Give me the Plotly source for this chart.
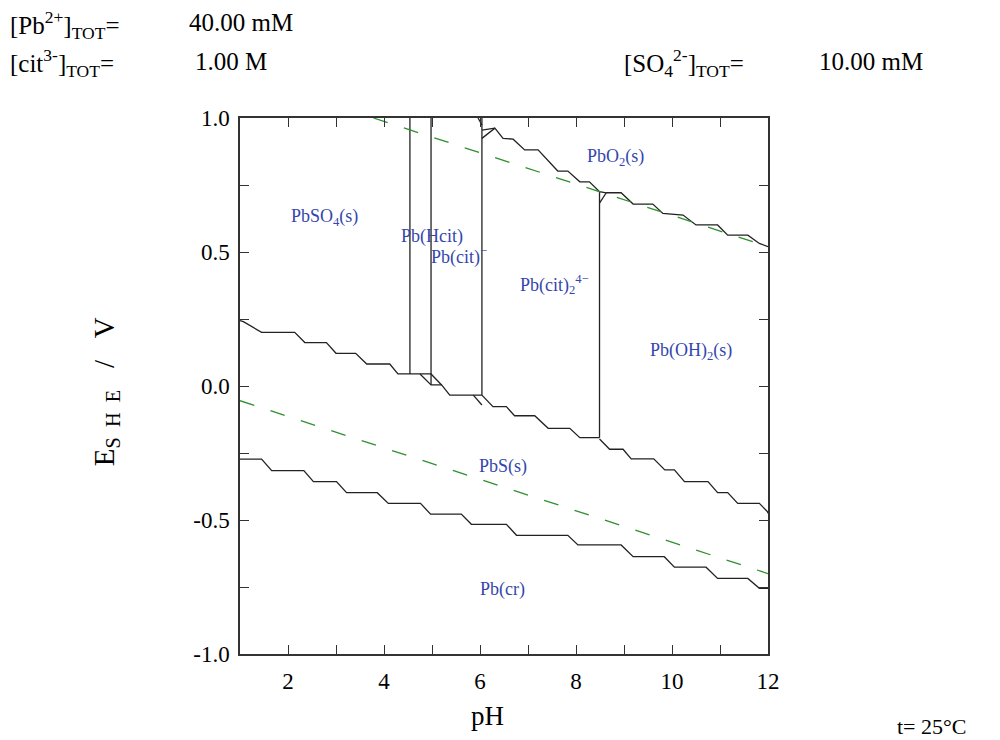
import plotly.graph_objects as go

# ---- data (pH, E/V) ----
# upper boundary PbO2(s)
upper_ph = [6.04, 6.31, 6.48, 6.69, 6.93, 7.21, 7.62, 7.83, 8.08, 8.28, 8.49, 8.63, 8.94, 9.19, 9.60,
            9.81, 10.23, 10.50, 10.95, 11.16, 11.58, 11.82, 12.0]
upper_e = [0.924, 0.962, 0.924, 0.921, 0.881, 0.881, 0.802, 0.802, 0.762, 0.762, 0.725, 0.721, 0.721,
           0.679, 0.679, 0.644, 0.638, 0.601, 0.601, 0.563, 0.563, 0.532, 0.52]
upper_top_ph = [5.96, 6.04]
upper_top_e = [1.0, 0.974]
upper_tri_ph = [6.04, 6.31]
upper_tri_e = [0.955, 0.962]
upper_tri2_ph = [8.49, 8.63]
upper_tri2_e = [0.682, 0.721]

# middle boundary (PbSO4 / citrate / Pb(OH)2 vs PbS)
mid_ph = [1.0, 1.07, 1.45, 2.14, 2.35, 2.80, 3.00, 3.41, 3.64, 4.12, 4.29, 4.98, 5.20, 5.37, 6.04]
mid_e = [0.244, 0.240, 0.200, 0.200, 0.162, 0.162, 0.122, 0.122, 0.082, 0.082, 0.045, 0.045, 0.004,
         -0.034, -0.034]
mid_tri1_ph = [4.75, 4.98, 5.20]
mid_tri1_e = [0.045, 0.004, 0.004]
mid_tri2_ph = [5.86, 6.04]
mid_tri2_e = [-0.034, -0.071]
mid2_ph = [6.04, 6.27, 6.55, 6.72, 7.14, 7.42, 7.87, 8.08, 8.49]
mid2_e = [-0.034, -0.077, -0.077, -0.111, -0.111, -0.158, -0.158, -0.193, -0.193]
mid3_ph = [8.49, 8.70, 8.98, 9.15, 9.62, 9.85, 10.05, 10.26, 10.75, 10.95, 11.16, 11.37, 11.82, 11.99, 12.0]
mid3_e = [-0.198, -0.236, -0.236, -0.272, -0.272, -0.313, -0.313, -0.357, -0.357, -0.398, -0.398,
          -0.438, -0.438, -0.469, -0.475]

# lower boundary PbS(s) / Pb(cr)
low_ph = [1.0, 1.45, 1.66, 2.33, 2.53, 3.01, 3.22, 3.86, 4.09, 4.76, 4.97, 5.61, 5.82, 6.55, 6.76,
          7.83, 8.04, 8.94, 9.19, 9.84, 10.05, 10.71, 10.95, 11.58, 11.82, 12.0]
low_e = [-0.273, -0.273, -0.316, -0.316, -0.357, -0.357, -0.398, -0.398, -0.438, -0.438, -0.478,
         -0.478, -0.516, -0.516, -0.557, -0.557, -0.593, -0.593, -0.637, -0.637, -0.676, -0.676,
         -0.718, -0.718, -0.755, -0.755]

# vertical boundaries: pH, E top, E bottom
vert_ph = [4.54, 4.98, 6.04, 8.49]
vert_top = [1.0, 1.0, 1.0, 0.725]
vert_bot = [0.045, 0.004, -0.034, -0.193]

# water stability limits (dashed)
o2_ph = [3.78, 12.0]
o2_e = [1.0, 0.52]
h2_ph = [1.0, 12.0]
h2_e = [-0.055, -0.70]

# species labels
lab_text = ["PbSO<sub>4</sub>(s)", "Pb(Hcit)", "Pb(cit)<sup>−</sup>", "Pb(cit)<sub>2</sub><sup>4−</sup>",
            "PbO<sub>2</sub>(s)", "Pb(OH)<sub>2</sub>(s)", "PbS(s)", "Pb(cr)"]
lab_ph = [2.75, 5.01, 5.56, 7.56, 8.83, 10.39, 6.47, 6.47]
lab_e = [0.63, 0.558, 0.486, 0.377, 0.854, 0.127, -0.302, -0.761]

x_tickvals = list(range(1, 13))
x_ticktext = ["" if v % 2 else str(v) for v in x_tickvals]
y_tickvals = [-1.0, -0.75, -0.5, -0.25, 0.0, 0.25, 0.5, 0.75, 1.0]
y_ticktext = ["-1.0", "", "-0.5", "", "0.0", "", "0.5", "", "1.0"]

# ---- figure ----
SERIF = "Liberation Serif, Times New Roman, serif"
LINE = dict(color="#222222", width=1.3)
fig = go.Figure()


def add_line(xs, ys, line=LINE):
    fig.add_trace(go.Scatter(x=xs, y=ys, mode="lines", line=line, hoverinfo="skip", showlegend=False))


for xs, ys in [(upper_ph, upper_e), (upper_top_ph, upper_top_e), (upper_tri_ph, upper_tri_e),
               (upper_tri2_ph, upper_tri2_e), (mid_ph, mid_e), (mid_tri1_ph, mid_tri1_e),
               (mid_tri2_ph, mid_tri2_e), (mid2_ph, mid2_e), (mid3_ph, mid3_e), (low_ph, low_e)]:
    add_line(xs, ys)

for p, t, b in zip(vert_ph, vert_top, vert_bot):
    add_line([p, p], [t, b])

green = dict(color="#2f8f2f", width=1.3, dash="15px,17px")
add_line(o2_ph, o2_e, green)
add_line(h2_ph, h2_e, green)

for t, x, y in zip(lab_text, lab_ph, lab_e):
    fig.add_annotation(x=x, y=y, text=t, showarrow=False, xanchor="center", yanchor="middle",
                       font=dict(family=SERIF, size=18, color="#3446ad"))

L, R, T, B = 240, 768.5, 118, 654
W, H = 1000, 740


def px(x):
    return (x - L) / (R - L)


def py(y):
    return (B - y) / (B - T)


hdr = dict(family=SERIF, size=25, color="black")
fig.add_annotation(xref="paper", yref="paper", x=px(8), y=py(25), xanchor="left", yanchor="middle",
                   text="[Pb<sup>2+</sup>]<sub>TOT</sub>=", showarrow=False, font=hdr)
fig.add_annotation(xref="paper", yref="paper", x=px(187), y=py(23), xanchor="left", yanchor="middle",
                   text="40.00 mM", showarrow=False, font=hdr)
fig.add_annotation(xref="paper", yref="paper", x=px(8), y=py(63), xanchor="left", yanchor="middle",
                   text="[cit<sup>3-</sup>]<sub>TOT</sub>=", showarrow=False, font=hdr)
fig.add_annotation(xref="paper", yref="paper", x=px(193), y=py(61), xanchor="left", yanchor="middle",
                   text="1.00 M", showarrow=False, font=hdr)
fig.add_annotation(xref="paper", yref="paper", x=px(622), y=py(63), xanchor="left", yanchor="middle",
                   text="[SO<sub>4</sub><sup>2-</sup>]<sub>TOT</sub>=", showarrow=False, font=hdr)
fig.add_annotation(xref="paper", yref="paper", x=px(818), y=py(61), xanchor="left", yanchor="middle",
                   text="10.00 mM", showarrow=False, font=hdr)
fig.add_annotation(xref="paper", yref="paper", x=px(488), y=py(716), xanchor="center", yanchor="middle",
                   text="pH", showarrow=False, font=dict(family=SERIF, size=27, color="black"))
fig.add_annotation(xref="paper", yref="paper", x=px(970), y=py(726), xanchor="right", yanchor="middle",
                   text="t= 25°C", showarrow=False, font=dict(family=SERIF, size=22, color="black"))
fig.add_annotation(xref="paper", yref="paper", x=px(106), y=py(392), xanchor="center", yanchor="middle",
                   textangle=-90,
                   text="E<sub>S\u00a0\u00a0H\u00a0\u00a0E</sub>\u00a0\u00a0\u00a0/\u00a0\u00a0\u00a0V",
                   showarrow=False, font=dict(family=SERIF, size=29, color="black"))

axis_common = dict(showline=True, linecolor="#333", linewidth=1.5, mirror="ticks", ticks="inside",
                   ticklen=9, tickwidth=1.2, tickcolor="#333", showgrid=False, zeroline=False,
                   tickfont=dict(family=SERIF, size=23, color="black"))
fig.update_xaxes(range=[1, 12], tickmode="array", tickvals=x_tickvals, ticktext=x_ticktext,
                 ticklabelstandoff=6, **axis_common)
fig.update_yaxes(range=[-1, 1], tickmode="array", tickvals=y_tickvals, ticktext=y_ticktext,
                 ticklabelstandoff=4, **axis_common)
fig.update_layout(width=W, height=H, margin=dict(l=L, r=W - R, t=T, b=H - B),
                  paper_bgcolor="white", plot_bgcolor="white", showlegend=False)

fig.write_html("out.html")
